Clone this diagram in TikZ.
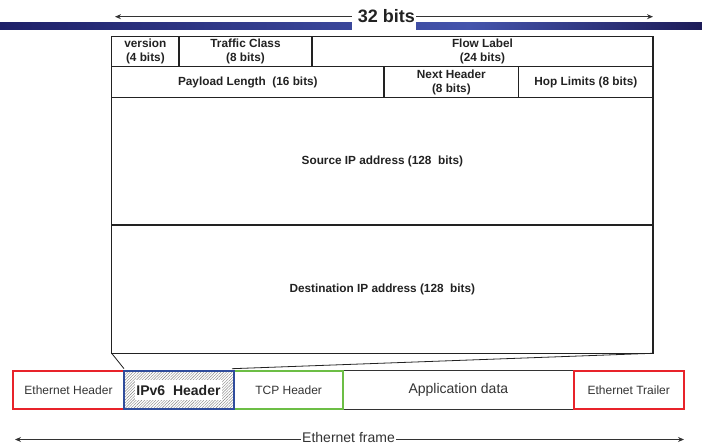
\documentclass[tikz,border=0pt]{standalone}
\usepackage{fontspec}
\setmainfont{Liberation Sans}
\usetikzlibrary{arrows.meta,patterns.meta,calc}

\definecolor{ink}{HTML}{222222}
\definecolor{soft}{HTML}{333333}
\definecolor{barL}{HTML}{1E2068}
\definecolor{barM}{HTML}{4454AC}
\definecolor{barR}{HTML}{1D1C58}
\definecolor{ethred}{HTML}{E8232A}
\definecolor{ipblue}{HTML}{2F4C9C}
\definecolor{tcpgreen}{HTML}{6CBE45}

\begin{document}
\begin{tikzpicture}[x=1pt,y=-1pt,
  cell/.style={draw=ink,line width=1.2pt,inner sep=0pt,outer sep=0pt,
    align=center,text=ink,font=\fontsize{11.8}{14}\selectfont\bfseries},
  seg/.style={inner sep=0pt,outer sep=0pt,minimum height=38.3pt,
    text=soft,font=\fontsize{12}{14}\selectfont},
  hdrbox/.style={seg,line width=2pt},
  span/.style={draw=soft,line width=0.9pt,
    {Stealth[length=6pt,width=5pt]}-{Stealth[length=6pt,width=5pt]}},
  zoomline/.style={draw=ink,line width=0.8pt}]
\useasboundingbox (0,0) rectangle (702,443);

% title band
\shade[left color=barL,right color=barM] (0,23) rectangle (470,30);
\shade[left color=barM,right color=barR] (469.5,23) rectangle (702,30);

% 32-bit width marker
\coordinate (wL) at (115,16.7);
\coordinate (wR) at (653,16.7);
\draw[span] (wL) -- (wR);
\fill[white] (352,0) rectangle (416,30.5);
\node[inner sep=0pt,text=ink,font=\fontsize{18}{20}\selectfont\bfseries,anchor=base]
  (wtitle) at (386.5,22.6) {32 bits};

% IPv6 header fields
\node[cell,minimum width=67.3pt,minimum height=30pt] (ver) at (145.35,51.7) {version\\(4 bits)};
\node[cell,minimum width=133pt,minimum height=30pt] (tc) at (245.5,51.7) {Traffic Class\\(8 bits)};
\node[cell,minimum width=341pt,minimum height=30pt] (fl) at (482.5,51.7) {Flow Label\\(24 bits)};
\node[cell,minimum width=272.3pt,minimum height=30.6pt] (pl) at (247.85,82) {Payload Length~ (16 bits)};
\node[cell,minimum width=134.7pt,minimum height=30.6pt] (nh) at (451.35,82) {Next Header\\(8 bits)};
\node[cell,minimum width=134.3pt,minimum height=30.6pt] (hl) at (585.85,82) {Hop Limits (8 bits)};
\node[cell,minimum width=541.3pt,minimum height=127.7pt] (src) at (382.35,161.15) {Source IP address (128~ bits)};
\node[cell,minimum width=541.3pt,minimum height=128.3pt] (dst) at (382.35,289.15) {Destination IP address (128~ bits)};

% Ethernet frame
\node[seg,draw=soft,line width=0.9pt,minimum width=230.2pt,font=\fontsize{14}{16}\selectfont]
  (app) at (458.4,389.85) {Application data};
\node[hdrbox,draw=ethred,minimum width=111pt] (eth) at (68.5,389.85) {Ethernet Header};
\node[hdrbox,draw=tcpgreen,minimum width=109.3pt] (tcp) at (288.65,389.85) {TCP Header};
\node[hdrbox,draw=ethred,minimum width=110.5pt] (trl) at (628.75,389.85) {Ethernet Trailer};
\node[hdrbox,draw=ipblue,minimum width=110pt,
  pattern={Lines[angle=45,distance=2pt,line width=0.4pt]},pattern color=gray] (ipv6) at (179,389.85) {};
\node[fill=white,inner sep=0pt,minimum width=87pt,minimum height=20pt,text=ink,
  font=\fontsize{14}{16}\selectfont\bfseries] (ipv6lbl) at (178.5,390) {IPv6~ Header};

% projection of the header onto the frame
\draw[zoomline] (dst.south west) -- ($(ipv6.north west)+(0,-2)$);
\draw[zoomline] (dst.south east) -- ($(ipv6.north east)+(-2,-2)$);

% frame length marker
\coordinate (fL) at (15,439.5);
\coordinate (fR) at (684,439.5);
\draw[span] (fL) -- (fR);
\node[fill=white,inner xsep=1.5pt,inner ysep=0pt,anchor=base,text=soft,
  font=\fontsize{14}{16}\selectfont] (flabel) at (348.5,442.7) {Ethernet frame};
\end{tikzpicture}
\end{document}
